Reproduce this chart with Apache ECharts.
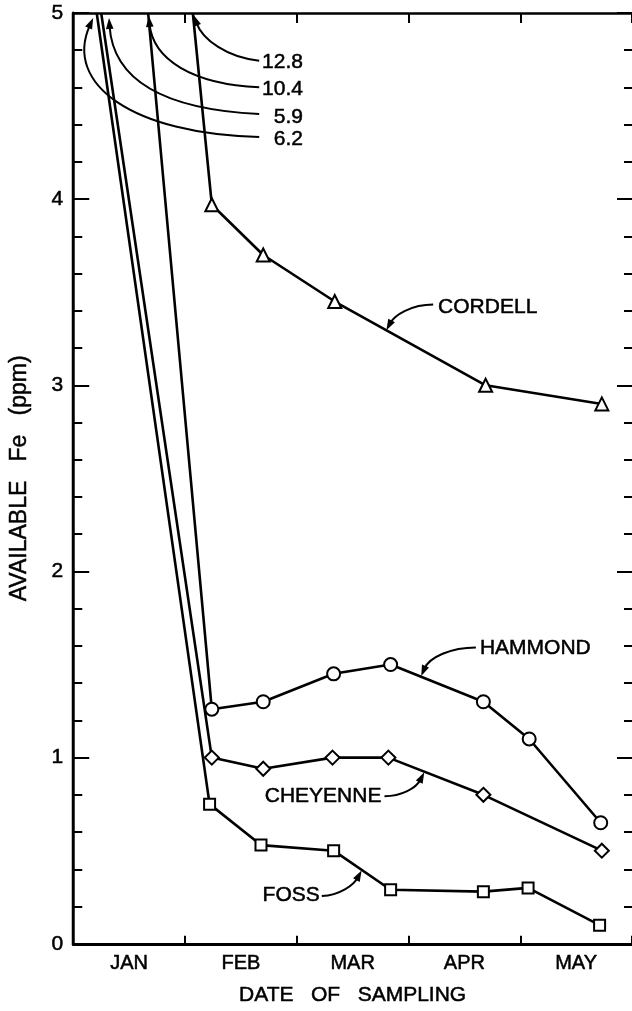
<!DOCTYPE html>
<html>
<head>
<meta charset="utf-8">
<script src="https://cdn.jsdelivr.net/npm/echarts@6/dist/echarts.min.js"></script>
<style>
html,body{margin:0;padding:0;background:#fff;}
#chart{width:632px;height:1011px;}
</style>
</head>
<body>
<div id="chart"></div>
<script>
// ---- data (x in months from Jan 1: 0 = Jan 1, 5 = Jun 1) ----
const months = ['JAN', 'FEB', 'MAR', 'APR', 'MAY'];
const seriesNames = ['CORDELL', 'HAMMOND', 'CHEYENNE', 'FOSS'];
// January values are off scale (above 5 ppm); printed at the top
const janValues = [12.8, 10.4, 5.9, 6.2];
// where each January segment leaves the top of the chart
const janX = [1.07, 0.67, 0.25, 0.21];

const cordellX = [1.24, 1.70, 2.34, 3.69, 4.73];
const cordellY = [3.97, 3.70, 3.45, 3.00, 2.90];
const hammondX = [1.24, 1.70, 2.33, 2.84, 3.67, 4.08, 4.72];
const hammondY = [1.26, 1.30, 1.45, 1.50, 1.30, 1.10, 0.65];
const cheyenneX = [1.24, 1.70, 2.32, 2.82, 3.67, 4.73];
const cheyenneY = [1.00, 0.94, 1.00, 1.00, 0.80, 0.50];
const fossX = [1.22, 1.68, 2.33, 2.84, 3.67, 4.07, 4.71];
const fossY = [0.75, 0.53, 0.50, 0.29, 0.28, 0.30, 0.10];

const Y_MAX = 5;
const FONT = "'Liberation Sans', Arial, Helvetica, sans-serif";

function build(xs, ys, janIdx) {
  const pts = [{ value: [janX[janIdx], Y_MAX], symbol: 'none' }];
  xs.forEach((x, i) => pts.push([x, ys[i]]));
  return pts;
}

const markStyle = { color: '#fff', borderColor: '#000', borderWidth: 2 };
function lineSeries(name, data, symbol, size) {
  return {
    name: name, type: 'line', data: data, xAxisIndex: 0, yAxisIndex: 0,
    symbol: symbol, symbolSize: size, showSymbol: true,
    lineStyle: { color: '#000', width: 2.6 },
    itemStyle: markStyle, clip: false, z: 3
  };
}

// annotation arrows (layout, in data units)
const annotations = [
  { text: String(janValues[0]), anchor: [2.055, 4.734], align: 'right',
    path: [[1.664, 4.744], [1.379, 4.760], [1.157, 4.856], [1.077, 4.989]] },
  { text: String(janValues[1]), anchor: [2.055, 4.590], align: 'right',
    path: [[1.664, 4.601], [1.068, 4.617], [0.712, 4.750], [0.676, 4.984]] },
  { text: String(janValues[2]), anchor: [2.055, 4.441], align: 'right',
    path: [[1.664, 4.457], [0.801, 4.483], [0.356, 4.643], [0.320, 4.973]] },
  { text: String(janValues[3]), anchor: [2.055, 4.324], align: 'right',
    path: [[1.664, 4.334], [0.534, 4.350], [-0.089, 4.617], [0.178, 4.973]] },
  { text: seriesNames[0], anchor: [3.265, 3.419], align: 'left',
    path: [[3.221, 3.434], [3.025, 3.434], [2.874, 3.376], [2.802, 3.296]] },
  { text: seriesNames[1], anchor: [3.639, 1.587], align: 'left',
    path: [[3.603, 1.592], [3.381, 1.592], [3.185, 1.539], [3.114, 1.438]] },
  { text: seriesNames[2], anchor: [2.758, 0.793], align: 'right',
    path: [[2.785, 0.793], [2.936, 0.793], [3.069, 0.836], [3.141, 0.921]] },
  { text: seriesNames[3], anchor: [2.206, 0.261], align: 'right',
    path: [[2.224, 0.256], [2.384, 0.261], [2.509, 0.314], [2.580, 0.394]] }
];

function renderAnnotation(params, api) {
  const a = annotations[params.dataIndex];
  const p = a.path.map(c => api.coord(c));
  const anc = api.coord(a.anchor);
  const dx = p[3][0] - p[2][0], dy = p[3][1] - p[2][1];
  const len = Math.sqrt(dx * dx + dy * dy) || 1;
  const ux = dx / len, uy = dy / len;
  const L = 11, W = 3.8;
  const bx = p[3][0] - ux * L, by = p[3][1] - uy * L;
  return {
    type: 'group',
    children: [
      { type: 'bezierCurve',
        shape: { x1: p[0][0], y1: p[0][1], cpx1: p[1][0], cpy1: p[1][1],
                 cpx2: p[2][0], cpy2: p[2][1], x2: bx + ux * 3, y2: by + uy * 3 },
        style: { stroke: '#000', fill: null, lineWidth: 2 } },
      { type: 'polygon',
        shape: { points: [[p[3][0], p[3][1]], [bx - uy * W, by + ux * W], [bx + uy * W, by - ux * W]] },
        style: { fill: '#000' } },
      { type: 'text',
        style: { text: a.text, x: anc[0], y: anc[1], align: a.align, verticalAlign: 'middle',
                 font: '21px ' + FONT, fill: '#000', stroke: '#000', lineWidth: 0.5 } }
    ]
  };
}

const txt = { color: '#000', fontFamily: FONT, textBorderColor: '#000', textBorderWidth: 0.5 };

const chart = echarts.init(document.getElementById('chart'), null, { renderer: 'canvas' });
chart.setOption({
  animation: false,
  backgroundColor: '#fff',
  grid: { left: 70, right: 0, top: 13, bottom: 59, containLabel: false },
  xAxis: [
    { type: 'value', min: 0, max: 5, show: false },
    { type: 'category', data: months, position: 'bottom', boundaryGap: true,
      axisLine: { show: true, lineStyle: { color: '#000', width: 3 } },
      axisTick: { show: true, inside: true, length: 8, lineStyle: { color: '#000', width: 2 } },
      axisLabel: Object.assign({ fontSize: 20, margin: 10 }, txt),
      name: 'DATE   OF   SAMPLING', nameLocation: 'middle', nameGap: 41,
      nameTextStyle: Object.assign({ fontSize: 21 }, txt),
      splitLine: { show: false } },
    { type: 'category', data: months, position: 'top', boundaryGap: true,
      axisLine: { show: true, lineStyle: { color: '#000', width: 2.5 } },
      axisTick: { show: true, inside: true, length: 10, lineStyle: { color: '#000', width: 2 } },
      axisLabel: { show: false }, splitLine: { show: false } }
  ],
  yAxis: [
    { type: 'value', min: 0, max: 5, interval: 1, position: 'left',
      axisLine: { show: true, lineStyle: { color: '#000', width: 3 } },
      axisTick: { show: true, inside: true, length: 16, lineStyle: { color: '#000', width: 2 } },
      minorTick: { show: true, splitNumber: 5, length: 9, lineStyle: { color: '#000', width: 2 } },
      axisLabel: Object.assign({ fontSize: 21, margin: 10 }, txt),
      splitLine: { show: false },
      name: 'AVAILABLE   Fe   (ppm)', nameLocation: 'middle', nameGap: 42, nameRotate: 90,
      nameTextStyle: Object.assign({ fontSize: 23 }, txt) },
    { type: 'value', min: 0, max: 5, interval: 1, position: 'right',
      axisLine: { show: false },
      axisTick: { show: true, inside: true, length: 15, lineStyle: { color: '#000', width: 2 } },
      minorTick: { show: true, splitNumber: 5, length: 8, lineStyle: { color: '#000', width: 2 } },
      axisLabel: { show: false }, splitLine: { show: false } }
  ],
  series: [
    lineSeries(seriesNames[0], build(cordellX, cordellY, 0), 'triangle', 13),
    lineSeries(seriesNames[1], build(hammondX, hammondY, 1), 'circle', 13),
    lineSeries(seriesNames[2], build(cheyenneX, cheyenneY, 2), 'diamond', 14),
    lineSeries(seriesNames[3], build(fossX, fossY, 3), 'rect', 11),
    { type: 'custom', xAxisIndex: 0, yAxisIndex: 0, silent: true, clip: false, z: 4,
      renderItem: renderAnnotation,
      data: annotations.map(a => a.path[3]) }
  ]
});
</script>
</body>
</html>
